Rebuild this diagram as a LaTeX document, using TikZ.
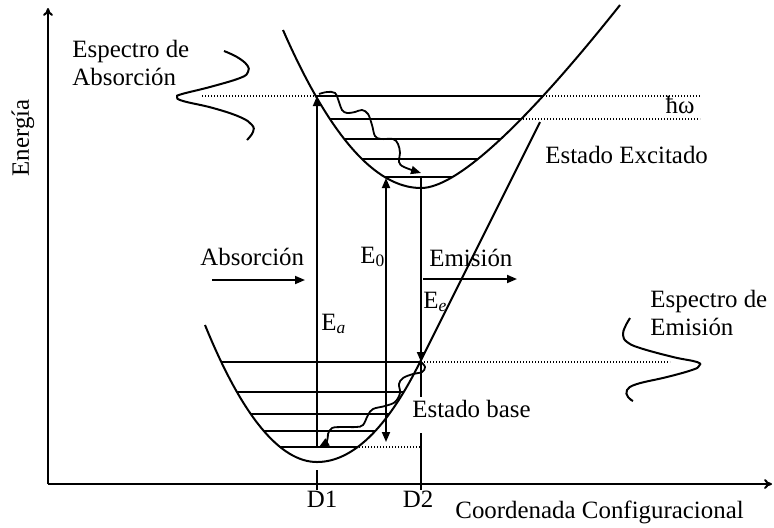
\documentclass[tikz,border=0pt]{standalone}
\usepackage{fontspec}
\setmainfont{Liberation Serif}
\usetikzlibrary{arrows.meta}
\tikzset{
  well/.style={line width=1pt},
  lvl/.style={line width=1pt},
  guide/.style={line width=0.6pt,dash pattern=on 0.6pt off 0.9pt},
  axis/.style={line width=1pt,-{To[length=4pt,width=5pt]}},
  ptr/.style={line width=0.9pt,-{Triangle[length=5pt,width=4pt]}},
  wave/.style={line width=0.9pt},
  spec/.style={line width=1pt},
  lbl/.style={inner sep=0pt,font=\fontsize{12.45}{14}\selectfont},
}

\begin{document}
\begin{tikzpicture}[x=0.5pt,y=-0.5pt]
  \useasboundingbox (0,0) rectangle (774,527);

  % axes
  \coordinate (O) at (48,484);
  \coordinate (ytop) at (48,8);
  \coordinate (xend) at (772,484);
  \draw[axis] (O) -- (ytop);
  \draw[axis] (O) -- (xend);

  % excited state well and its levels
  \begin{scope}
    \clip (283,30) .. controls (329,135) and (375,188) .. (421,188)
      .. controls (456,188) and (523,127) .. (620,5) -- cycle;
    \foreach \y in {96,119,139,159,177}
      \draw[lvl] (250,\y) -- (650,\y);
  \end{scope}
  \draw[well] (283,30) .. controls (329,135) and (375,188) .. (421,188)
    .. controls (456,188) and (523,127) .. (620,5);

  % ground state well and its levels
  \begin{scope}
    \clip (205,325) .. controls (242,416) and (280,462) .. (317,462)
      .. controls (352,462) and (387,429) .. (420,362) -- (540,122) -- cycle;
    \foreach \y in {362,392,414,431,447}
      \draw[lvl] (150,\y) -- (500,\y);
  \end{scope}
  \draw[well] (205,325) .. controls (242,416) and (280,462) .. (317,462)
    .. controls (352,462) and (387,429) .. (420,362) -- (540,122);

  % dotted guides
  \draw[guide] (202,96) -- (318,96);
  \draw[guide] (543,96) -- (700,96);
  \draw[guide] (523,119) -- (700,119);
  \draw[guide] (421,362) -- (670,362);
  \draw[guide] (353,447) -- (421,447);

  % transitions
  \coordinate (a0) at (317,447);
  \coordinate (a1) at (317,96);
  \coordinate (z0) at (386,442);
  \coordinate (z1) at (386,178);
  \coordinate (e0) at (421,177);
  \coordinate (e1) at (421,362);
  \draw[ptr] (a0) -- (a1);
  \draw[ptr,{Triangle[length=5pt,width=4pt]}-{Triangle[length=5pt,width=4pt]}] (z0) -- (z1);
  \draw[ptr] (e0) -- (e1);

  % relaxation
  \draw[wave,-{Triangle[length=5pt,width=4pt]}] plot[smooth,tension=0.6] coordinates {
    (319,94) (327,92) (335,93) (339,102) (342,110) (347,113) (355,112) (362,110)
    (368,114) (372,125) (375,136) (381,139) (393,139) (398,144) (400,153)
    (399,162) (404,167) (421,173)};
  \draw[wave,-{Triangle[length=5pt,width=4pt]}] plot[smooth,tension=0.6] coordinates {
    (421,362) (425,367) (422,372) (413,374) (403,378) (399,384) (400,393)
    (395,402) (385,406) (373,409) (368,415) (363,425) (356,427) (343,427)
    (332,428) (328,434) (327,441) (319,447)};

  % D1, D2
  \draw[lvl] (317,470) -- (317,490);
  \draw[lvl] (e1) -- (421,397);
  \draw[lvl] (421,433) -- (421,490);

  % spectra
  \draw[spec] plot[smooth,tension=0.7] coordinates {
    (224,51) (237,57) (247,65) (248,72) (240,78) (210,87) (182,94) (177,97)
    (183,101) (213,108) (240,117) (252,125) (253,132) (247,140)};
  \draw[spec] plot[smooth,tension=0.7] coordinates {
    (630,318) (625,327) (623,335) (627,342) (640,348) (673,357) (697,362)
    (699,366) (692,370) (667,377) (637,384) (627,390) (628,397) (633,401)};

  % direction arrows
  \coordinate (ab0) at (212,280);
  \coordinate (ab1) at (305,280);
  \coordinate (em0) at (423,279);
  \coordinate (em1) at (517,279);
  \draw[ptr] (ab0) -- (ab1);
  \draw[ptr] (em0) -- (em1);

  % labels
  \node[lbl,rotate=90] (energia) at (23,138) {Energía};
  \node[lbl,anchor=west,align=left] (specabs) at (72,63) {Espectro de\\Absorción};
  \node[lbl,anchor=west,align=left] (specem) at (650,313) {Espectro de\\Emisión};
  \node[lbl,anchor=base] (hw) at (680,113) {ħω};
  \node[lbl,anchor=base west] (exc) at (545,163) {Estado Excitado};
  \node[lbl,anchor=base west] (abs) at (200,265) {Absorción};
  \node[lbl,anchor=base west] (emi) at (429,266) {Emisión};
  \node[lbl,anchor=base west] (Ez) at (360,263) {E\textsubscript{0}};
  \node[lbl,anchor=base west] (Ee) at (423,308) {E\textsubscript{\itshape e}};
  \node[lbl,anchor=base west] (Ea) at (321,330) {E\textsubscript{\itshape a}};
  \node[lbl,anchor=base west] (base) at (412,417) {Estado base};
  \node[lbl,anchor=base] (d1) at (322,507) {D1};
  \node[lbl,anchor=base] (d2) at (418,507) {D2};
  \node[lbl,anchor=base west] (coord) at (455,518) {Coordenada Configuracional};
\end{tikzpicture}
\end{document}
